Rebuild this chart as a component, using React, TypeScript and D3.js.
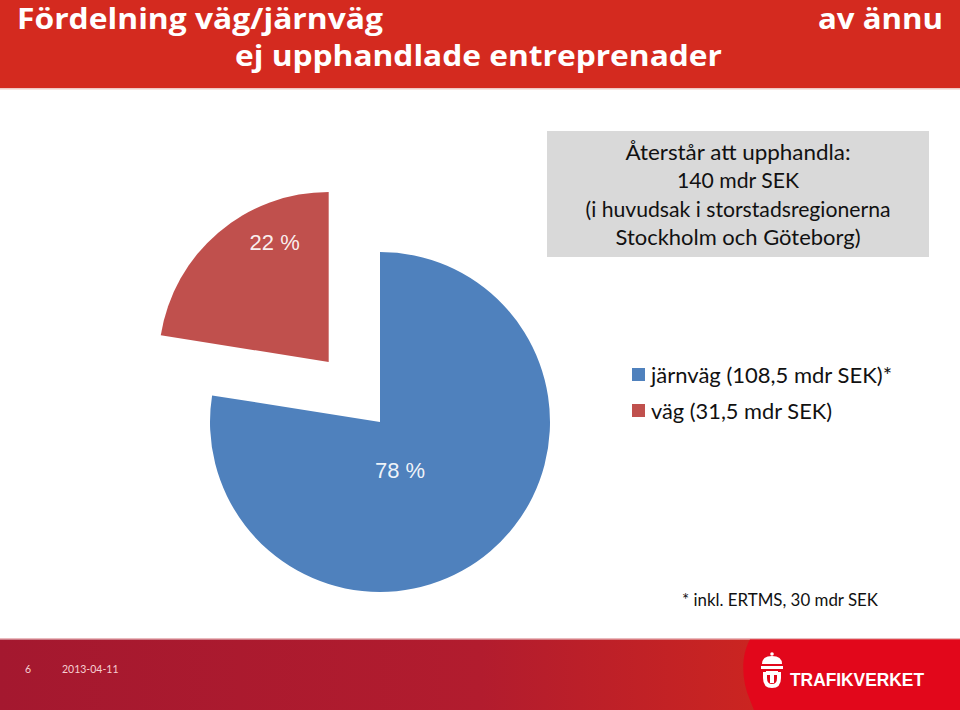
import React from "react";
import * as d3 from "d3";

const categories = ["järnväg", "väg"];
const values = [108.5, 31.5];
const pctLabels = ["78 %", "22 %"];
const legendLabels = ["järnväg (108,5 mdr SEK)*", "väg (31,5 mdr SEK)"];
const titleLines = ["Fördelning väg/järnväg", "ej upphandlade entreprenader", "av ännu"];
const boxLines = [
  "Återstår att upphandla:",
  "140 mdr SEK",
  "(i huvudsak i storstadsregionerna",
  "Stockholm och Göteborg)",
];
const footnote = "* inkl. ERTMS, 30 mdr SEK";
const footerPage = "6";
const footerDate = "2013-04-11";
const brand = "TRAFIKVERKET";

const W = 960;
const H = 710;
const colors = ["#4f81bd", "#c0504d"];
const FONT = "Lato, 'Open Sans', sans-serif";
const TITLE_FONT = "'Open Sans', Lato, sans-serif";

export default function App() {
  const cx = 380;
  const cy = 422;
  const r = 170;
  const explode = [0, 79];
  const labelOffsets = [
    { dx: 20, dy: 56 },
    { dx: -54, dy: -112 },
  ];
  const pie = d3.pie<number>().sort(null).value((d) => d)(values);
  const arc = d3.arc<d3.PieArcDatum<number>>().innerRadius(0).outerRadius(r);

  const legendY = d3.scalePoint<string>().domain(categories).range([368, 404]);

  return (
    <svg
      width={W}
      height={H}
      style={{ position: "absolute", left: 0, top: 0, display: "block" }}
    >
      <defs>
        <linearGradient id="foot" x1="0" x2="1" y1="0" y2="0">
          <stop offset="0" stopColor="#a4182f" />
          <stop offset="0.5" stopColor="#b21c2e" />
          <stop offset="0.8" stopColor="#cc2520" />
          <stop offset="1" stopColor="#d02a1e" />
        </linearGradient>
      </defs>
      <rect x={0} y={0} width={W} height={H} fill="#ffffff" />
      {/* header */}
      <rect x={0} y={0} width={W} height={88} fill="#d42a1f" />
      <rect x={0} y={88} width={W} height={1.5} fill="#f0c8c4" />
      <text x={17} y={29} fill="#fff" fontFamily={TITLE_FONT} fontWeight={700} fontSize={28} textLength={366} lengthAdjust="spacingAndGlyphs">
        {titleLines[0]}
      </text>
      <text x={235} y={66} fill="#fff" fontFamily={TITLE_FONT} fontWeight={700} fontSize={28} textLength={487} lengthAdjust="spacingAndGlyphs">
        {titleLines[1]}
      </text>
      <text x={818} y={29} fill="#fff" fontFamily={TITLE_FONT} fontWeight={700} fontSize={28} textLength={125} lengthAdjust="spacingAndGlyphs">
        {titleLines[2]}
      </text>

      {/* pie */}
      {pie.map((d, i) => {
        const mid = (d.startAngle + d.endAngle) / 2;
        const ox = Math.sin(mid) * explode[i];
        const oy = -Math.cos(mid) * explode[i];
        return (
          <g key={categories[i]} transform={`translate(${cx + ox},${cy + oy})`}>
            <path d={arc(d) || ""} fill={colors[i]} />
            <text
              x={labelOffsets[i].dx}
              y={labelOffsets[i].dy}
              textAnchor="middle"
              fill="#ffffff"
              fillOpacity={0.92}
              fontFamily="'Liberation Sans', Arial, sans-serif"
              fontSize={22}
            >
              {pctLabels[i]}
            </text>
          </g>
        );
      })}

      {/* info box */}
      <rect x={547} y={131} width={382} height={126} fill="#d9d9d9" />
      {boxLines.map((t, i) => {
        const lens = [225, 122, 305, 245];
        return (
          <text
            key={i}
            x={738}
            y={160 + i * 28.3}
            textAnchor="middle"
            fill="#111"
            fontFamily={FONT}
            fontSize={21}
            textLength={lens[i]}
            lengthAdjust="spacingAndGlyphs"
          >
            {t}
          </text>
        );
      })}

      {/* legend */}
      {categories.map((c, i) => {
        const y = legendY(c) || 0;
        const lens = [241, 181];
        return (
          <g key={c}>
            <rect x={632} y={y} width={13} height={13} fill={colors[i]} />
            <text
              x={651}
              y={y + 15}
              fill="#111"
              fontFamily={FONT}
              fontSize={21}
              textLength={lens[i]}
              lengthAdjust="spacingAndGlyphs"
            >
              {legendLabels[i]}
            </text>
          </g>
        );
      })}

      <text x={682} y={606} fill="#111" fontFamily={FONT} fontSize={17} textLength={196} lengthAdjust="spacingAndGlyphs">
        {footnote}
      </text>

      {/* footer */}
      <rect x={0} y={638} width={W} height={1.5} fill="#e9b9bd" />
      <rect x={0} y={639.5} width={W} height={H - 639.5} fill="url(#foot)" />
      <path
        d="M750,639.5 C741,655 741,680 750,700 L754,710 L960,710 L960,639.5 Z"
        fill="#e2071b"
      />
      <text x={25} y={673} fill="#f6cfd2" fontFamily={FONT} fontSize={10.5}>
        {footerPage}
      </text>
      <text x={62} y={673} fill="#f6cfd2" fontFamily={FONT} fontSize={10.5}>
        {footerDate}
      </text>
      {/* logo emblem */}
      <g fill="#fff">
        <path d="M762,664 Q762,656 772,656 Q782,656 782,664 Z" />
        <circle cx={772} cy={654} r={1.8} />
        <rect x={761} y={666} width={22} height={3} />
        <path d="M763,672 L763,678 Q763,688 772,688 Q781,688 781,678 L781,672 L777,672 L777,678 Q777,684 772,684 Q767,684 767,678 L767,672 Z" />
        <rect x={766} y={671} width={12} height={4} />
        <rect x={770} y={671} width={4} height={12} />
      </g>
      <text x={790} y={686} fill="#fff" fontFamily="'Liberation Sans', Arial, sans-serif" fontWeight={700} fontSize={19} textLength={134} lengthAdjust="spacingAndGlyphs">
        {brand}
      </text>
    </svg>
  );
}
